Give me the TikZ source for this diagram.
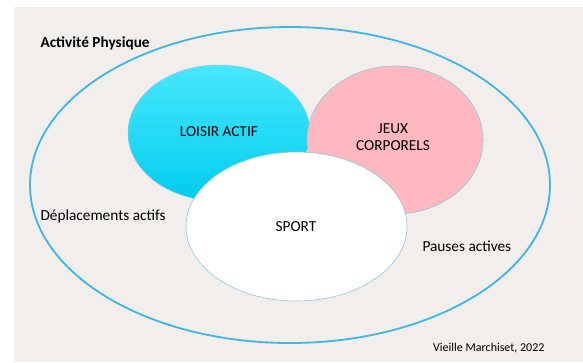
\documentclass[tikz,border=0pt]{standalone}
\usepackage{fontspec}
\setmainfont{Carlito}
\begin{document}
\begin{tikzpicture}[x=1pt,y=-1pt,
  outerline/.style={draw=outerblue,line width=1.8pt},
  inner/.style={draw=edgeblue,line width=0.6pt},
  lbl/.style={font=\fontsize{15.3}{17.5}\selectfont,text=black,align=center},
  side/.style={font=\fontsize{15.3}{17.5}\selectfont,text=black,anchor=west},
]
\definecolor{bggrey}{HTML}{F1EEEC}
\definecolor{outerblue}{HTML}{3DB6E8}
\definecolor{edgeblue}{HTML}{8CC8E0}
\definecolor{cyantop}{HTML}{48E8FC}
\definecolor{cyanbot}{HTML}{00CCEF}
\definecolor{pinkfill}{HTML}{FFB8C0}
\useasboundingbox (0,0) rectangle (583,362);
\fill[white] (0,0) rectangle (583,362);
\fill[bggrey] (14,7) rectangle (583,362);
% outer ellipse
\draw[outerline] (290,185) ellipse [x radius=260, y radius=158];
% cyan
\shade[top color=cyantop,bottom color=cyanbot,draw=edgeblue,line width=0.5pt] (219,133) ellipse [x radius=91, y radius=68];
% pink
\draw[inner,fill=pinkfill] (395,140) ellipse [x radius=88, y radius=74];
% sport
\draw[inner,fill=white] (296.5,226.5) ellipse [x radius=110.5, y radius=74.5];
% labels
\node[lbl] (loisir) at (219,132) {LOISIR ACTIF};
\node[lbl] (jeux) at (393,137) {JEUX\\CORPORELS};
\node[lbl] (sport) at (296,227) {SPORT};
\node[font=\bfseries\fontsize{15.3}{17.5}\selectfont,anchor=west] (titre) at (37,43) {Activité Physique};
\node[side] (depl) at (37,216) {Déplacements actifs};
\node[side] (pauses) at (419,246) {Pauses actives};
\node[font=\fontsize{12}{14}\selectfont,anchor=east] (src) at (548,348) {Vieille Marchiset, 2022};
\end{tikzpicture}
\end{document}
